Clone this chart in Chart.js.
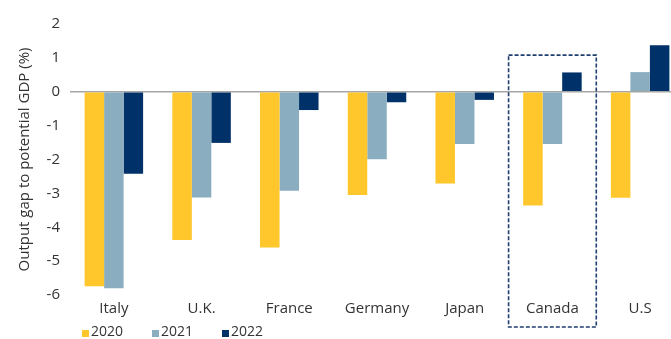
<!DOCTYPE html>
<html>
<head>
<meta charset="utf-8">
<script src="https://cdn.jsdelivr.net/npm/chart.js@4"></script>
<style>
    html, body { margin: 0; padding: 0; background: #fff; overflow: hidden; }
    .chart-wrap { width: 688px; height: 339px; position: relative; }
</style>
</head>
<body>
<div class="chart-wrap"><canvas id="gapChart"></canvas></div>
<script>
const countries = ['Italy', 'U.K.', 'France', 'Germany', 'Japan', 'Canada', 'U.S'];
const years = ['2020', '2021', '2022'];
const gap2020 = [-5.74, -4.38, -4.60, -3.05, -2.71, -3.36, -3.13];
const gap2021 = [-5.80, -3.12, -2.92, -1.99, -1.54, -1.54, 0.58];
const gap2022 = [-2.42, -1.51, -0.54, -0.31, -0.24, 0.57, 1.37];
const yTicks = [-6, -5, -4, -3, -2, -1, 0, 1, 2];
const highlightCountry = 'Canada';
const highlightTop = 1.08;

const colors = ['#FFC72C', '#8AAEC0', '#003168'];
const textColor = '#333333';
const fontFamily = '"Open Sans", "Noto Sans", sans-serif';

// dashed frame around the highlighted country, from the chart's own scales
const highlightBox = {
    id: 'highlightBox',
    afterDatasetsDraw(chart) {
        const x = chart.scales.x;
        const y = chart.scales.y;
        const idx = countries.indexOf(highlightCountry);
        const half = x.width / countries.length / 2;
        const cx = x.getPixelForValue(idx);
        const top = y.getPixelForValue(highlightTop);
        const bottom = chart.height - 12;
        const ctx = chart.ctx;
        ctx.save();
        ctx.strokeStyle = '#1F3F6E';
        ctx.lineWidth = 1.6;
        ctx.setLineDash([4, 2]);
        ctx.strokeRect(cx - half, top, half * 2, bottom - top);
        ctx.restore();
    }
};

// small square legend along the bottom edge
const bottomLegend = {
    id: 'bottomLegend',
    afterDraw(chart) {
        const ctx = chart.ctx;
        const yMid = chart.height - 6;
        let xPos = chart.chartArea.left + 12;
        ctx.save();
        ctx.font = '14px ' + fontFamily;
        ctx.textBaseline = 'middle';
        ctx.textAlign = 'left';
        chart.data.datasets.forEach(ds => {
            ctx.fillStyle = ds.backgroundColor;
            ctx.fillRect(xPos, yMid - 3, 7, 7);
            ctx.fillStyle = textColor;
            ctx.fillText(ds.label, xPos + 9, yMid - 1);
            xPos += 70;
        });
        ctx.restore();
    }
};

const ctx = document.getElementById('gapChart').getContext('2d');
new Chart(ctx, {
    type: 'bar',
    data: {
        labels: countries,
        datasets: [
            { label: years[0], data: gap2020, backgroundColor: colors[0] },
            { label: years[1], data: gap2021, backgroundColor: colors[1] },
            { label: years[2], data: gap2022, backgroundColor: colors[2] }
        ]
    },
    options: {
        responsive: true,
        maintainAspectRatio: false,
        animation: false,
        datasets: {
            bar: { categoryPercentage: 0.667, barPercentage: 1.0, borderWidth: 0 }
        },
        layout: { padding: { left: 12, right: 4, top: 24, bottom: 16 } },
        plugins: {
            legend: { display: false },
            tooltip: { enabled: false }
        },
        scales: {
            x: {
                grid: { display: false, drawTicks: false },
                border: { display: false },
                ticks: {
                    color: textColor,
                    padding: 5,
                    font: { family: fontFamily, size: 15 }
                }
            },
            y: {
                min: -6,
                max: 2,
                afterBuildTicks(scale) {
                    scale.ticks = yTicks.map(v => ({ value: v }));
                },
                afterFit(scale) {
                    scale.width = 58;
                },
                border: { display: false },
                grid: {
                    drawTicks: false,
                    color: c => c.tick && c.tick.value === 0 ? '#A6A6A6' : 'rgba(0,0,0,0)',
                    lineWidth: 1.5
                },
                ticks: {
                    color: textColor,
                    padding: 10,
                    font: { family: fontFamily, size: 15 }
                },
                title: {
                    display: true,
                    text: 'Output gap to potential GDP (%)',
                    color: textColor,
                    font: { family: fontFamily, size: 15 },
                    padding: { top: 4, bottom: 4 }
                }
            }
        }
    },
    plugins: [highlightBox, bottomLegend]
});
</script>
</body>
</html>
